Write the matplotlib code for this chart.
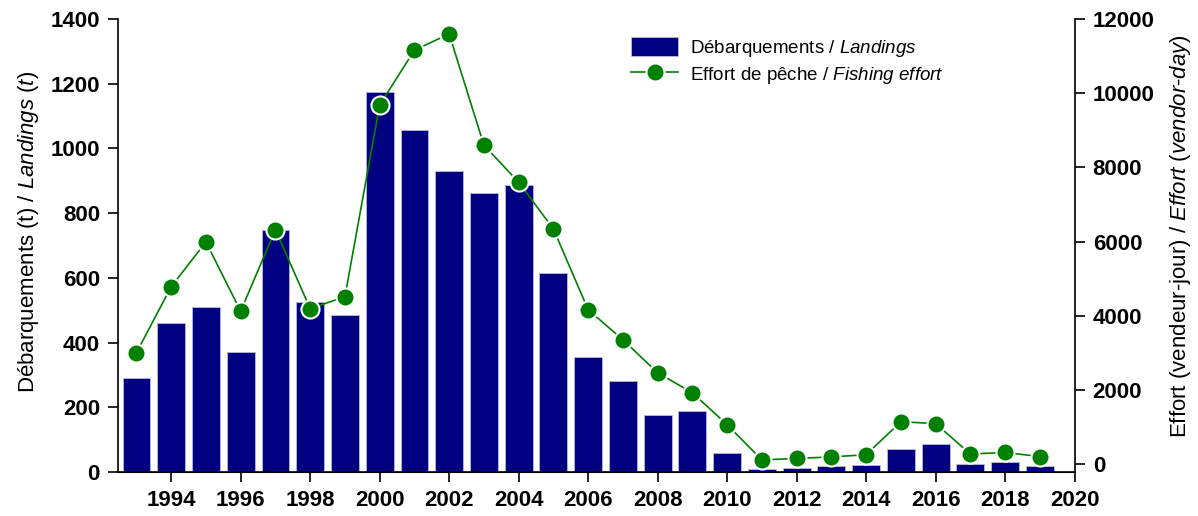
import matplotlib
matplotlib.use('Agg')
import matplotlib.pyplot as plt
import numpy as np

plt.rcParams['font.family'] = ['Liberation Sans', 'DejaVu Sans']
plt.rcParams['mathtext.fontset'] = 'custom'
plt.rcParams['mathtext.rm'] = 'Liberation Sans'
plt.rcParams['mathtext.it'] = 'Liberation Sans:italic'
plt.rcParams['mathtext.bf'] = 'Liberation Sans:bold'

# Donnees
annees = list(range(1993, 2020))
debarquements = [290, 460, 510, 371, 748, 525, 485, 1174, 1057, 930, 862, 887,
                 615, 355, 281, 177, 190, 58, 10, 13, 18, 23, 71, 86, 26, 31, 20]
effort = [3000, 4780, 5990, 4120, 6320, 4190, 4510, 9680, 11160, 11600, 8600, 7600,
          6340, 4160, 3350, 2460, 1920, 1060, 110, 150, 190, 250, 1140, 1090, 270, 310, 200]
x_ticks = list(range(1994, 2021, 2))

fig = plt.figure(figsize=(11.98, 5.16), dpi=100)
ax = fig.add_axes([0.0985, 0.0853, 0.7985, 0.8777])

bars = ax.bar(annees, debarquements, width=0.8, color='#000080',
              edgecolor='#b8b8e0', linewidth=0.6, zorder=2,
              label='Débarquements / $\\it{Landings}$')
ax.set_xlim(1992.47, 2020)
ax.set_ylim(0, 1400)
ax.set_yticks(range(0, 1401, 200))
ax.set_xticks(x_ticks)
ax.spines['top'].set_visible(False)
ax.spines['right'].set_visible(False)
ax.tick_params(axis='both', direction='out', length=7, width=1.2, labelsize=16, pad=6)
for lab in ax.get_xticklabels() + ax.get_yticklabels():
    lab.set_fontweight('bold')
ax.set_ylabel('Débarquements (t) / $\\it{Landings}$ $\\it{(t)}$', fontsize=16)
ax.yaxis.set_label_coords(-0.081, 0.53)

ax2 = ax.twinx()
ligne, = ax2.plot(annees, effort, color='#008000', linewidth=1.2, marker='o',
                  markersize=13, markerfacecolor='#008000', markeredgecolor='white',
                  markeredgewidth=1.5, zorder=3,
                  label='Effort de pêche / $\\it{Fishing}$ $\\it{effort}$')
ax2.set_ylim(-216, 12000)
ax2.set_yticks(range(0, 12001, 2000))
ax2.spines['top'].set_visible(False)
ax2.spines['left'].set_visible(False)
ax2.spines['right'].set_linewidth(1.2)
ax2.tick_params(axis='y', direction='out', length=7, width=1.2, labelsize=16, pad=6)
for lab in ax2.get_yticklabels():
    lab.set_fontweight('bold')
ax2.set_ylabel('Effort (vendeur-jour) / $\\it{Effort}$ $\\it{(vendor}$-$\\it{day)}$',
               fontsize=16)
ax2.yaxis.set_label_coords(1.098, 0.52)
ax.spines['left'].set_linewidth(1.2)
ax.spines['bottom'].set_linewidth(1.2)

leg = ax.legend([bars, ligne], [bars.get_label(), ligne.get_label()],
                loc='upper left', bbox_to_anchor=(0.525, 0.985), frameon=False,
                fontsize=13.5, handlelength=2.5, handleheight=1.2, handletextpad=0.6,
                borderaxespad=0.2, labelspacing=0.25)

fig.savefig('out.png', dpi=100)
